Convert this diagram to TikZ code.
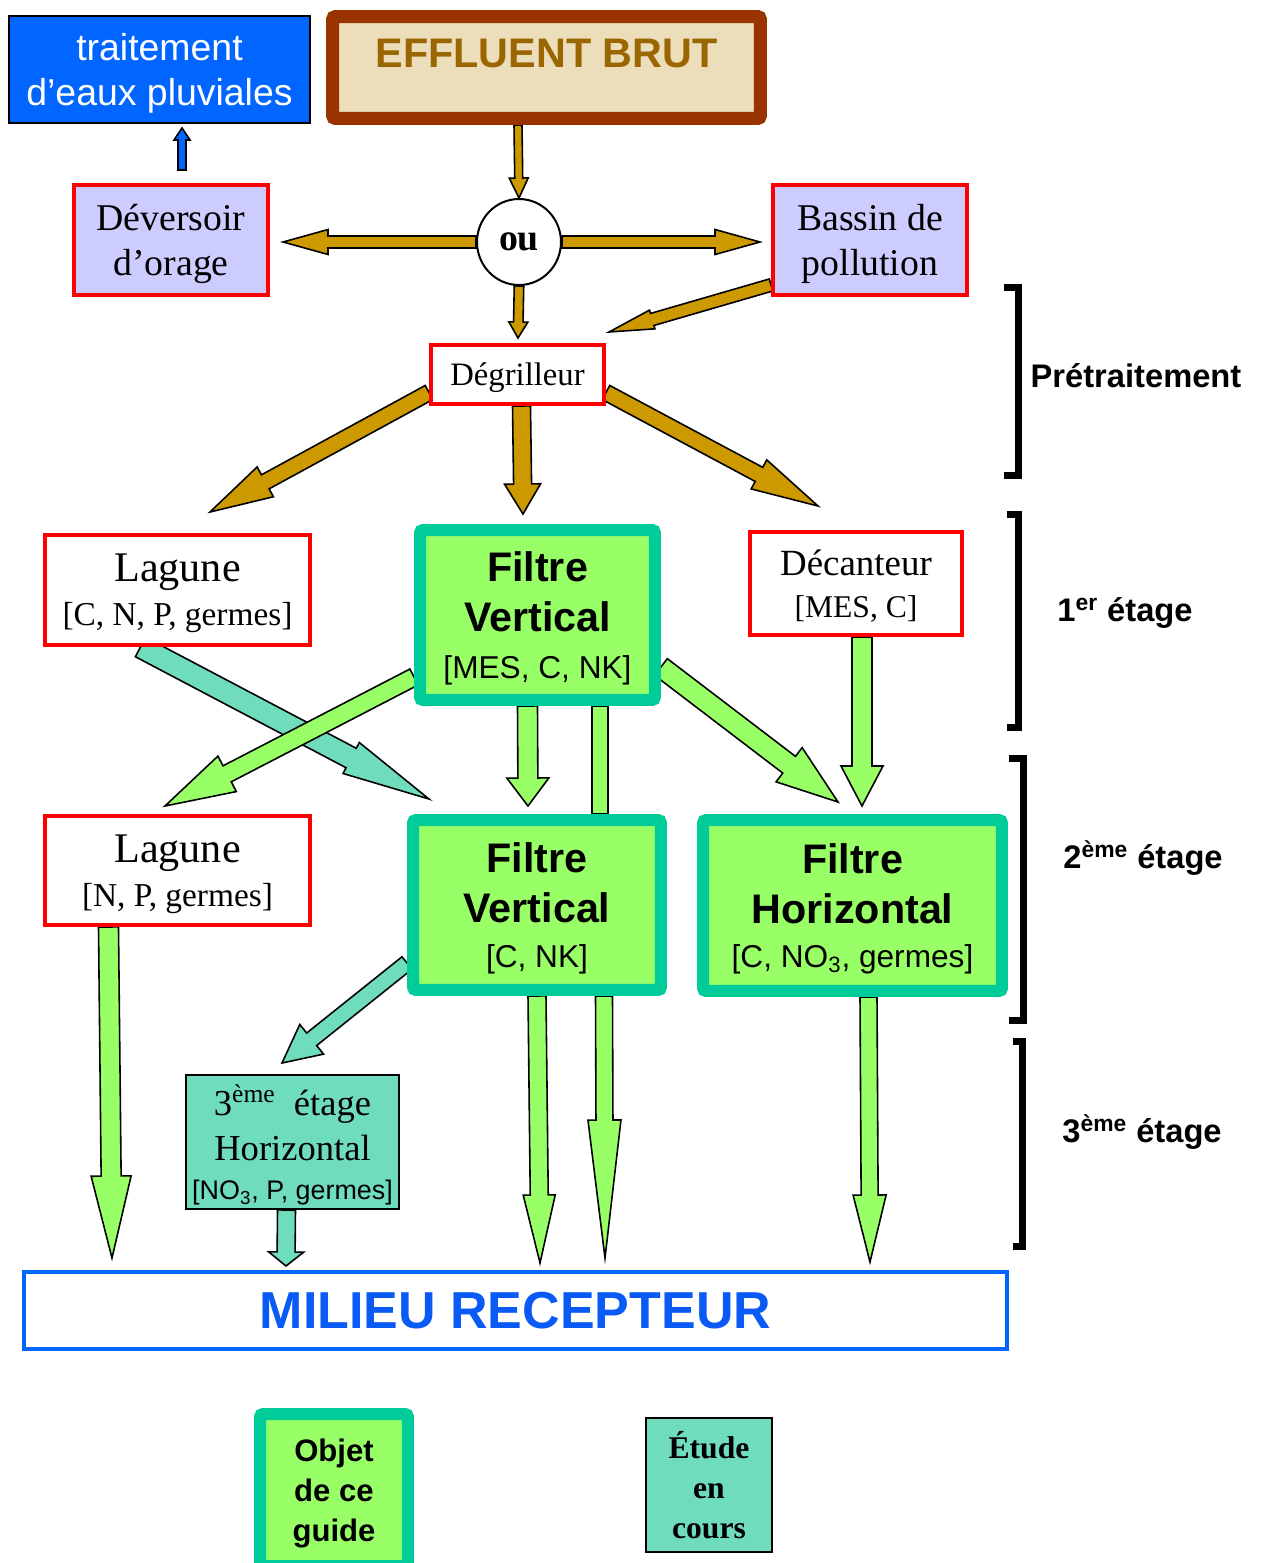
\documentclass[tikz,border=0pt]{standalone}
\usepackage{fontspec}
\setmainfont{Liberation Serif}
\newfontfamily\arialfont{Liberation Sans}
\usetikzlibrary{calc}
\usetikzlibrary{shapes.geometric}

\definecolor{pluvblue}{RGB}{0,102,255}
\definecolor{milblue}{RGB}{10,90,245}
\definecolor{efflborder}{RGB}{153,51,0}
\definecolor{parchment}{RGB}{236,221,187}
\definecolor{effltext}{RGB}{153,102,0}
\definecolor{goldfill}{RGB}{204,153,0}
\definecolor{lavender}{RGB}{204,204,255}
\definecolor{boxred}{RGB}{255,0,0}
\definecolor{tealedge}{RGB}{0,204,153}
\definecolor{lightgreen}{RGB}{153,255,102}
\definecolor{hatchteal}{RGB}{112,220,190}

\newcommand{\fsz}[2]{\fontsize{#1}{#2}\selectfont}
% block arrow: [style]{from}{to}{half shaft}{half head}{head length}
\newcommand{\blockarrow}[6][]{%
	\coordinate (ba-s) at (#2);
	\coordinate (ba-t) at (#3);
	\coordinate (ba-h) at ($(ba-t)!#6!(ba-s)$);
	\draw[#1] ($(ba-s)!#4!90:(ba-t)$) -- ($(ba-h)!#4!90:(ba-t)$) -- ($(ba-h)!#5!90:(ba-t)$) -- (ba-t)
		-- ($(ba-h)!#5!-90:(ba-t)$) -- ($(ba-h)!#4!-90:(ba-t)$) -- ($(ba-s)!#4!-90:(ba-t)$) -- cycle;}

\pgfdeclarelayer{bg}
\pgfsetlayers{bg,main}

\begin{document}
\begin{tikzpicture}[x=0.02cm,y=-0.02cm,
	redbox/.style={draw=boxred,line width=0.8mm,fill=white,inner sep=0pt,align=center,text depth=0pt},
	greenbox/.style={draw=tealedge,line width=2.4mm,fill=lightgreen,rounded corners=0.6mm,inner sep=0pt,align=center,text depth=0pt,font=\arialfont\bfseries\fsz{23.5}{28.5}},
	hatchbox/.style={draw=black,line width=0.4mm,fill=hatchteal,inner sep=0pt,align=center,text depth=0pt},
	stagelabel/.style={font=\arialfont\bfseries\fsz{18.6}{22}},
	bracket/.style={line width=1.4mm},
	goldarrow/.style={draw=black,line width=0.9pt,fill=goldfill},
	greenarrow/.style={draw=black,line width=0.9pt,fill=lightgreen},
	hatcharrow/.style={draw=black,line width=0.9pt,fill=hatchteal},
	bluearrow/.style={draw=black,line width=0.9pt,fill=pluvblue}]
	\useasboundingbox (0,0) rectangle (1262,1563);

	\node[draw=black,line width=0.4mm,fill=pluvblue,text=white,minimum width=6.02cm,minimum height=2.14cm,inner sep=0pt,align=center,text depth=0pt,font=\arialfont\fsz{21.3}{25.5}] (pluv) at (159.5,69.5) {traitement\\d’eaux pluviales};
	\node[draw=efflborder,line width=2.6mm,fill=parchment,rounded corners=0.6mm,minimum width=8.56cm,minimum height=2.04cm,text=effltext,font=\arialfont\bfseries\fsz{23.5}{28}] (effl) at (546.5,67.5) {\raisebox{0pt}[0pt][0pt]{EFFLUENT BRUT}};
	\node[redbox,fill=lavender,minimum width=3.88cm,minimum height=2.2cm,font=\fsz{21.5}{26}] (dev) at (171,240) {Déversoir\\d’orage};
	\node[ellipse,draw=black,line width=0.4mm,fill=white,minimum width=1.68cm,minimum height=1.72cm,inner sep=0pt,font=\bfseries\fsz{21.5}{26}] (ou) at (519,242) {ou};
	\node[redbox,fill=lavender,minimum width=3.88cm,minimum height=2.2cm,font=\fsz{21.5}{26}] (bassin) at (870,240) {Bassin de\\pollution};
	\node[redbox,minimum width=3.46cm,minimum height=1.18cm,font=\fsz{18.6}{21}] (degr) at (517.5,374.5) {Dégrilleur};

	\node[redbox,minimum width=5.3cm,minimum height=2.2cm,font=\fsz{24}{25}] (lag1) at (177.5,590) {Lagune\\{\fsz{19}{22}[C, N, P, germes]}};
	\node[greenbox,minimum width=4.7cm,minimum height=3.4cm] (fv1) at (537.5,615) {Filtre\\Vertical\\[-2pt]{\mdseries\fsz{18}{22}[MES, C, NK]}};
	\node[redbox,minimum width=4.24cm,minimum height=2.06cm,font=\fsz{21}{24}] (dec) at (856,583.5) {Décanteur\\{\fsz{18}{22}[MES, C]}};

	\node[redbox,minimum width=5.3cm,minimum height=2.18cm,font=\fsz{24}{25}] (lag2) at (177.5,870.5) {Lagune\\{\fsz{19}{22}[N, P, germes]}};
	\node[greenbox,minimum width=4.96cm,minimum height=3.4cm] (fv2) at (537,905) {Filtre\\Vertical\\[-3pt]{\mdseries\fsz{18}{22}[C, NK]}};
	\node[greenbox,minimum width=5.98cm,minimum height=3.42cm] (fh) at (852.5,905.5) {Filtre\\Horizontal\\[-3pt]{\mdseries\fsz{18}{22}[C, NO\textsubscript{3}, germes]}};

	\node[hatchbox,minimum width=4.26cm,minimum height=2.68cm,font=\fsz{20.8}{25.5}] (ter) at (292.5,1142) {3\textsuperscript{ème}\hspace{0.5em}étage\\Horizontal\\[-3pt]{\arialfont\fsz{15.3}{18}[NO\textsubscript{3}, P, germes]}};
	\node[draw=pluvblue,line width=0.8mm,fill=white,minimum width=19.66cm,minimum height=1.54cm,inner sep=0pt,text=milblue,font=\arialfont\bfseries\fsz{29.6}{34}] (mil) at (515.5,1310.5) {MILIEU RECEPTEUR};

	\node[greenbox,minimum width=2.96cm,minimum height=3.04cm,font=\arialfont\bfseries\fsz{17.7}{22.7}] (objet) at (334,1490) {Objet\\de ce\\guide};
	\node[hatchbox,minimum width=2.52cm,minimum height=2.68cm,font=\bfseries\fsz{18}{22.7}] (etude) at (709,1485) {Étude\\en\\cours};

	% stages
	\node[stagelabel] (lpre) at (1136,376) {Prétraitement};
	\node[stagelabel] (l1) at (1125,613) {1\textsuperscript{er} étage};
	\node[stagelabel] (l2) at (1143,858) {2\textsuperscript{ème} étage};
	\node[stagelabel] (l3) at (1142,1132) {3\textsuperscript{ème} étage};
	\draw[bracket] (1004,287.5) -| (1018.5,475.5) -- (1004,475.5);
	\draw[bracket] (1007,514.5) -| (1018.5,727.5) -- (1007,727.5);
	\draw[bracket] (1009,758.5) -| (1023.5,1020.5) -- (1009,1020.5);
	\draw[bracket] (1013,1041.5) -| (1022.5,1246.5) -- (1013,1246.5);

	\coordinate (t-dev) at (283,242);
	\coordinate (t-bas) at (760,242);
	\coordinate (t-degr) at (518,338);
	\coordinate (t-bp) at (609,332);
	\coordinate (t-lag1) at (210,512);
	\coordinate (t-fv1) at (523,514);
	\coordinate (t-dec) at (818,506);
	\coordinate (t-lag2) at (165,806);
	\coordinate (t-fv2) at (528,806);
	\coordinate (t-fv2b) at (429,799);
	\coordinate (t-fh) at (838,802);
	\coordinate (t-fh2) at (862,806);
	\coordinate (t-ter) at (282,1063);
	\coordinate (t-mil1) at (112,1258);
	\coordinate (t-mil2) at (540,1263);
	\coordinate (t-mil3) at (605,1258);
	\coordinate (t-mil4) at (870,1262);
	\coordinate (t-mil5) at (286,1266);

	\begin{pgfonlayer}{bg}
	\blockarrow[bluearrow]{$(dev.north)+(11,-13)$}{$(pluv.south)+(22.5,4)$}{0.8mm}{1.6mm}{2.4mm}
	\blockarrow[goldarrow]{$(effl.south)+(-28.5,0)$}{ou.north}{0.8mm}{1.9mm}{4mm}
	\blockarrow[goldarrow]{ou.west}{t-dev}{1.2mm}{2.5mm}{9mm}
	\blockarrow[goldarrow]{ou.east}{t-bas}{1.2mm}{2.5mm}{9mm}
	\blockarrow[goldarrow]{ou.south}{t-degr}{0.95mm}{1.9mm}{3.2mm}
	\blockarrow[goldarrow]{$(bassin.south west)+(0,-12)$}{t-bp}{1.25mm}{1.95mm}{9mm}
	\blockarrow[goldarrow]{$(degr.west)+(0,18)$}{t-lag1}{1.6mm}{3.4mm}{12.6mm}
	\blockarrow[goldarrow]{$(degr.south)+(4,0)$}{t-fv1}{1.8mm}{3.6mm}{6mm}
	\blockarrow[goldarrow]{$(degr.east)+(0,18)$}{t-dec}{1.6mm}{3.3mm}{13.4mm}
	\blockarrow[hatcharrow]{$(lag1.south)+(-37,0)$}{t-fv2b}{2.2mm}{3.5mm}{17.6mm}
	\blockarrow[greenarrow]{$(fv1.west)+(0,62)$}{t-lag2}{1.8mm}{4mm}{14mm}
	\blockarrow[greenarrow]{$(fv1.south)+(-10,0)$}{t-fv2}{2mm}{4.2mm}{5.6mm}
	\draw[greenarrow] ($(fv1.south)+(54.5,0)$) rectangle ($(fv2.north)+(71,0)$);
	\blockarrow[greenarrow]{$(fv1.east)+(0,52)$}{t-fh}{2.1mm}{4.3mm}{12.3mm}
	\blockarrow[greenarrow]{$(dec.south)+(6,0)$}{t-fh2}{2mm}{4.2mm}{8mm}
	\blockarrow[greenarrow]{$(lag2.south)+(-69,0)$}{t-mil1}{2mm}{4mm}{16.4mm}
	\blockarrow[greenarrow]{fv2.south}{t-mil2}{1.8mm}{3.2mm}{13.6mm}
	\blockarrow[greenarrow]{$(fv2.south)+(67,0)$}{t-mil3}{1.7mm}{3.3mm}{27.6mm}
	\blockarrow[greenarrow]{$(fh.south)+(16,0)$}{t-mil4}{1.7mm}{3.3mm}{13.4mm}
	\blockarrow[hatcharrow]{$(fv2.west)+(0,58)$}{t-ter}{1.6mm}{3.8mm}{7.6mm}
	\blockarrow[hatcharrow]{$(ter.south)+(-6,0)$}{t-mil5}{1.8mm}{3.5mm}{2.8mm}
	\end{pgfonlayer}
\end{tikzpicture}
\end{document}
